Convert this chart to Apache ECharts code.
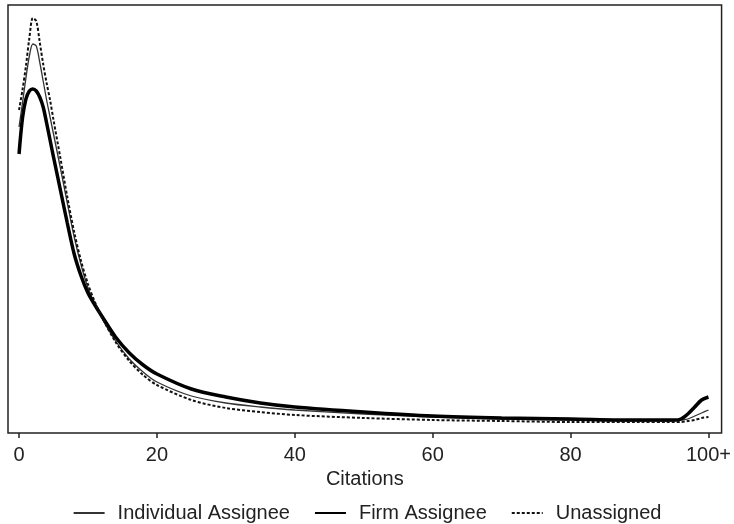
<!DOCTYPE html>
<html>
<head>
<meta charset="utf-8">
<script src="https://cdn.jsdelivr.net/npm/echarts@6/dist/echarts.min.js"></script>
<style>
  html, body { margin: 0; padding: 0; background: #fff; }
  #chart { width: 734px; height: 524px; }
</style>
</head>
<body>
<div id="chart"></div>
<script>
// x positions (citations)
const citations = [0, 0.5, 1, 1.5, 2, 2.5, 3, 3.5, 4, 4.5, 5, 6, 7, 8, 9, 10, 11, 12, 14, 16, 18, 20,
  25, 30, 35, 40, 50, 60, 70, 80, 90, 94, 95, 96, 97, 98, 99, 100]
// relative density
const individual = [306, 330, 355, 377, 389, 387, 371, 352, 333, 316, 299, 265, 230, 196, 168, 145, 129, 115, 92, 74, 61, 51,
  37, 30, 26, 23, 19, 16, 14, 13, 12, 12, 12, 13, 14, 17, 20, 23]
const firm = [279, 315, 334, 342, 344, 342, 336, 326, 310, 293, 276, 243, 210, 179, 157, 140, 128, 117, 96, 80, 68, 59,
  44, 36, 30, 26, 21, 17, 15, 14, 13, 13, 13, 14, 19, 26, 33, 36]
const unassigned = [323, 343, 367, 395, 415, 412, 391, 369, 350, 333, 313, 275, 236, 201, 172, 149, 131, 116, 91, 72, 58, 48,
  33, 25, 21, 18, 15, 13, 12, 11, 11, 11, 11, 11, 12, 13, 15, 16]
const tickValues = [0, 20, 40, 60, 80, 100]
const tickLabels = ['0', '20', '40', '60', '80', '100+']

const pairs = (ys) => citations.map((x, i) => [x, ys[i]])

const chart = echarts.init(document.getElementById('chart'))
const font = 'Liberation Sans, Arial, sans-serif'

chart.setOption({
  animation: false,
  grid: {
    left: 8, right: 12, top: 5, bottom: 91,
    show: true,
    borderColor: '#222',
    borderWidth: 1.5,
    backgroundColor: '#fff'
  },
  legend: {
    left: 'center',
    top: 498,
    itemWidth: 31,
    itemHeight: 20,
    itemGap: 24,
    itemStyle: { opacity: 0 }, // 只显示线条，不显示圆点
    textStyle: { fontFamily: font, fontSize: 20, color: '#222', padding: [0, 0, 0, 8] },
    data: ['Individual Assignee', 'Firm Assignee', 'Unassigned']
  },
  xAxis: {
    type: 'value',
    min: -1.6,
    max: 101.9,
    name: 'Citations',
    nameLocation: 'middle',
    nameGap: 28,
    nameTextStyle: { fontFamily: font, fontSize: 20, color: '#222' },
    axisLine: { show: false },
    axisTick: {
      show: true,
      length: 5,
      customValues: tickValues,
      lineStyle: { color: '#222', width: 1.5 }
    },
    axisLabel: {
      margin: 12,
      fontFamily: font,
      fontSize: 20,
      color: '#222',
      customValues: tickValues,
      formatter: (v) => tickLabels[tickValues.indexOf(v)]
    },
    splitLine: { show: false }
  },
  yAxis: {
    type: 'value',
    min: 0,
    max: 428,
    show: false,
    splitLine: { show: false }
  },
  series: [
    {
      name: 'Individual Assignee',
      type: 'line',
      data: pairs(individual),
      smooth: 0.3,
      symbol: 'none',
      lineStyle: { color: '#333', width: 1.3 },
      itemStyle: { color: '#333' }
    },
    {
      name: 'Firm Assignee',
      type: 'line',
      data: pairs(firm),
      smooth: 0.3,
      symbol: 'none',
      lineStyle: { color: '#000', width: 3.5 },
      itemStyle: { color: '#000' }
    },
    {
      name: 'Unassigned',
      type: 'line',
      data: pairs(unassigned),
      smooth: 0.3,
      symbol: 'none',
      lineStyle: { color: '#111', width: 2, type: [3, 2] },
      itemStyle: { color: '#111' }
    }
  ]
})
</script>
</body>
</html>
